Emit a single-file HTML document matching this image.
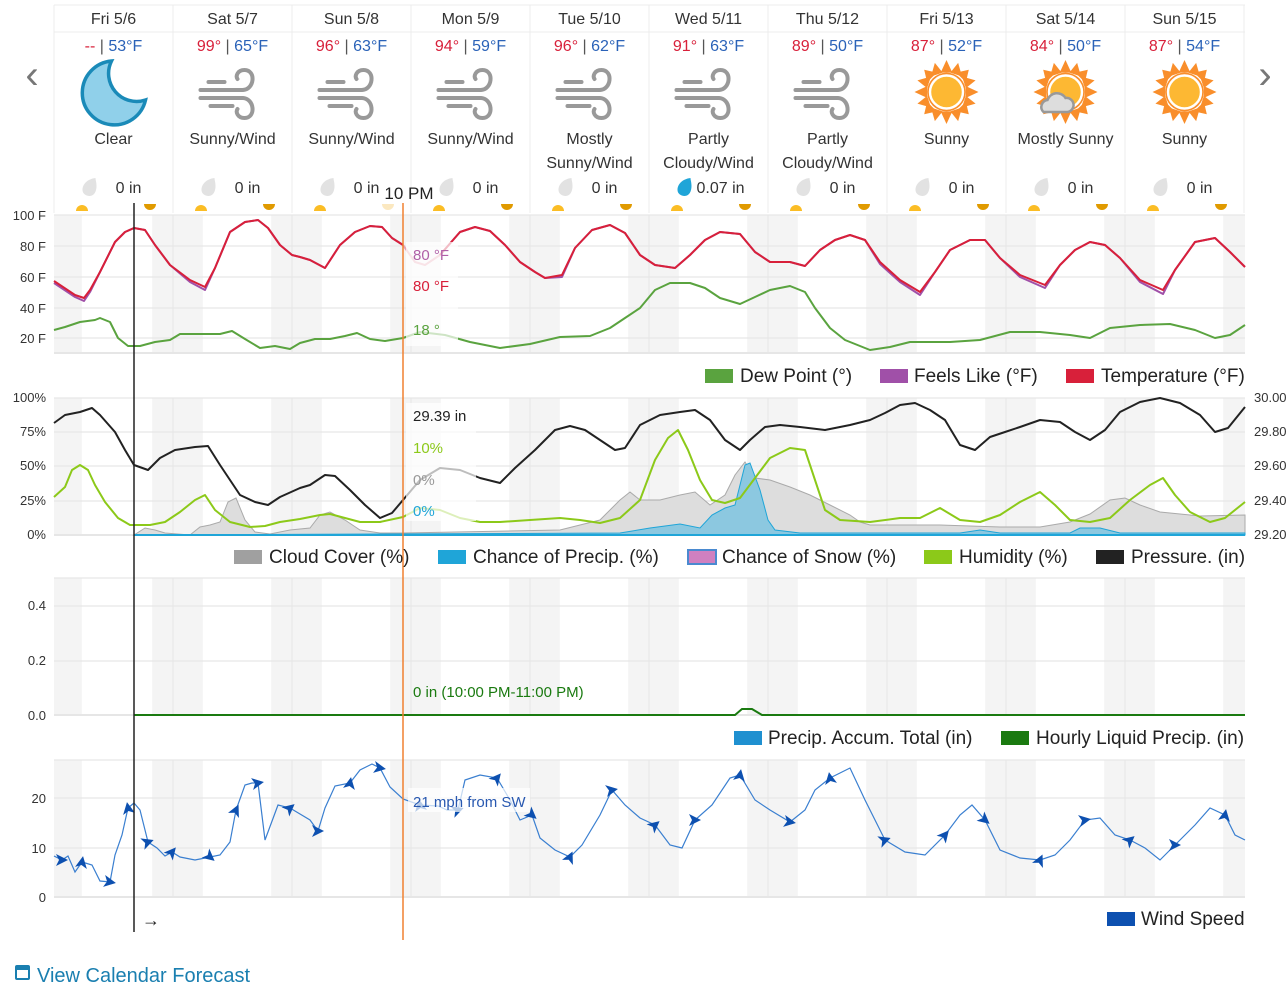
<!DOCTYPE html>
<html><head><meta charset="utf-8"><style>
body{margin:0;background:#fff;font-family:"Liberation Sans",sans-serif;}
svg text{font-family:"Liberation Sans",sans-serif;}
</style></head><body>
<svg id="s" width="1288" height="1000" xmlns="http://www.w3.org/2000/svg">
<defs>
<g id="wind"><g stroke="#999" stroke-width="4" fill="none" stroke-linecap="round"><line x1="-24" y1="-10" x2="-8" y2="-10"/><line x1="-32" y1="-2" x2="10" y2="-2"/><line x1="-32" y1="6" x2="10" y2="6"/><line x1="-22" y1="14" x2="0" y2="14"/><path d="M10,-2 C22,-2 24,-22 12,-22 C5,-22 3,-16 5,-13"/><path d="M10,6 C22,6 24,26 12,26 C5,26 3,20 5,17"/></g></g>
<g id="sun"><g fill="#f98e2b"><polygon points="0,-33 6,-20 -6,-20"/><polygon points="0,33 6,20 -6,20"/><polygon points="-33,0 -20,6 -20,-6"/><polygon points="33,0 20,6 20,-6"/><polygon points="23,-23 20,-10 10,-20"/><polygon points="-23,-23 -20,-10 -10,-20"/><polygon points="23,23 20,10 10,20"/><polygon points="-23,23 -20,10 -10,20"/><polygon points="12,-30 16,-16 4,-20"/><polygon points="-12,-30 -4,-20 -16,-16"/><polygon points="12,30 4,20 16,16"/><polygon points="-12,30 -16,16 -4,20"/><polygon points="30,12 20,4 16,16"/><polygon points="-30,12 -16,16 -20,4"/><polygon points="30,-12 16,-16 20,-4"/><polygon points="-30,-12 -20,-4 -16,-16"/></g><circle r="20" fill="#f98e2b"/><circle r="17" fill="#fdb833" stroke="#fff" stroke-width="2.5"/></g>
<g id="drop"><path d="M6,-9 C-2,-8 -7,-3 -7,3 C-7,7 -3,9 0,9 C5,9 7,4 7,-1 C7,-5 6,-7 6,-9Z"/></g>
</defs>
<g id="bg"></g>
<g id="hdr"></g>
<text x="32" y="88" font-size="40" fill="#777" text-anchor="middle" font-weight="300">‹</text>
<text x="1265" y="88" font-size="40" fill="#777" text-anchor="middle" font-weight="300">›</text>
<text x="409" y="199" font-size="17" fill="#222" text-anchor="middle">10 PM</text>
<g font-size="13" fill="#333" text-anchor="end">
<text x="46" y="220">100 F</text><text x="46" y="251">80 F</text><text x="46" y="282">60 F</text><text x="46" y="313">40 F</text><text x="46" y="343">20 F</text>
<text x="46" y="402">100%</text><text x="46" y="436">75%</text><text x="46" y="470">50%</text><text x="46" y="505">25%</text><text x="46" y="539">0%</text>
<text x="46" y="610">0.4</text><text x="46" y="665">0.2</text><text x="46" y="720">0.0</text>
<text x="46" y="803">20</text><text x="46" y="853">10</text><text x="46" y="902">0</text>
</g>
<g font-size="13" fill="#333"><text x="1254" y="402">30.00</text><text x="1254" y="436">29.80</text><text x="1254" y="470">29.60</text><text x="1254" y="505">29.40</text><text x="1254" y="539">29.20</text></g>
<g fill="none" stroke-width="2" stroke-linejoin="round">
<polyline stroke="#a050a8" points="54,283 75,297 84,301 90,292 100,272 115,242 125,232 134,228 145,230 155,245 170,265 190,282 205,290 215,268 230,232 245,222 258,220 268,228 280,245 292,255 300,257 310,260 325,268 340,245 355,232 370,226 382,227 392,238 403,245"/>
<polyline stroke="#d8203a" points="54,281 75,295 84,298 90,290 100,272 115,242 125,232 134,228 145,230 155,245 170,265 190,280 205,287 215,268 230,232 245,222 258,220 268,228 280,245 292,255 300,257 310,260 325,268 340,245 355,232 370,226 382,227 392,238 403,245"/>
<polyline stroke="#e8a0b0" points="403,245 415,262 425,265 440,255"/>
<polyline stroke="#a050a8" points="440,255 460,232 475,227 490,231 505,245 520,262 535,272 545,278 562,277 575,248 592,230 610,225 625,233 640,255 655,265 675,268 690,255 705,240 720,232 740,234 755,252 770,262 790,262 805,266 820,250 835,240 850,235 865,240 880,264 900,282 920,295 935,272 950,250 970,240 985,240 1000,258 1020,277 1045,288 1060,265 1075,250 1090,242 1105,245 1120,258 1140,282 1163,294 1175,270 1195,242 1215,238 1230,252 1245,267"/>
<polyline stroke="#d8203a" points="440,255 460,232 475,227 490,231 505,245 520,262 535,272 545,278 562,275 575,248 592,230 610,225 625,233 640,255 655,265 675,268 690,255 705,240 720,232 740,234 755,252 770,262 790,262 805,266 820,250 835,240 850,235 865,240 880,262 900,280 920,292 935,272 950,250 970,240 985,240 1000,258 1020,275 1045,285 1060,265 1075,250 1090,242 1105,245 1120,258 1140,280 1163,290 1175,270 1195,242 1215,238 1230,252 1245,267"/>
<polyline stroke="#5aa33f" points="54,330 65,327 80,322 95,320 100,318 110,322 118,338 128,346 140,346 155,342 170,340 180,334 200,334 220,334 232,331 245,339 260,348 275,346 290,349 300,343 315,339 330,339 345,336 357,333 370,339 385,341 403,338 420,332 445,335 470,342 500,348 530,344 560,337 590,336 610,328 625,318 640,308 655,290 670,283 690,283 705,288 720,298 740,304 755,297 770,290 790,286 805,292 815,308 830,328 845,340 870,350 890,347 910,342 950,342 980,340 1010,332 1040,332 1070,335 1090,338 1110,328 1140,325 1170,324 1195,330 1215,338 1230,335 1245,325"/>
</g>
<polygon fill="#ddd" stroke="#aaa" stroke-width="1" points="134,535 145,528 155,530 165,533 190,535 200,527 210,525 220,522 228,502 236,498 245,520 255,532 270,534 290,530 310,528 320,515 330,512 345,520 360,530 380,533 403,533 560,530 600,520 620,500 630,492 640,500 660,500 680,495 695,492 710,505 725,495 735,475 745,462 755,478 770,480 790,487 810,495 830,505 850,515 860,522 870,525 900,525 940,525 1000,527 1040,527 1070,522 1090,514 1110,500 1125,498 1140,505 1160,512 1200,516 1245,515 1245,535"/>
<polygon fill="#8cc8e0" stroke="#1fa5d8" stroke-width="1" points="134,535 620,533 650,528 680,524 700,528 712,515 725,508 735,505 745,465 750,463 760,490 768,520 775,530 800,533 960,533 980,530 1000,533 1070,533 1080,528 1100,528 1120,533 1245,533 1245,535"/>
<line x1="134" y1="535" x2="1245" y2="535" stroke="#1fa5d8" stroke-width="2"/>
<g fill="none" stroke-width="2" stroke-linejoin="round">
<polyline stroke="#8cc919" points="54,497 65,487 72,470 80,465 88,470 95,485 105,502 118,518 130,525 150,525 165,522 180,512 195,500 205,495 215,510 230,522 250,527 265,526 280,522 300,519 320,515 330,514 345,518 360,522 380,522 403,517 420,508 440,510 460,518 480,522 500,522 530,520 560,518 580,520 600,523 620,518 640,500 655,460 668,438 678,430 688,450 700,480 712,500 725,503 740,498 755,478 770,458 790,448 805,450 815,480 825,510 840,520 870,522 900,518 920,518 940,508 960,520 980,522 1000,515 1020,502 1040,492 1055,505 1070,520 1090,522 1110,518 1130,500 1150,485 1163,478 1175,495 1190,512 1210,522 1225,518 1245,502"/>
<polyline stroke="#222" points="54,423 65,415 80,412 92,408 100,415 115,432 125,450 134,465 148,470 160,458 175,450 195,447 208,446 220,465 240,495 255,502 268,505 280,497 300,488 310,485 325,475 335,476 350,490 365,505 380,518 392,513 403,500 420,480 440,468 460,470 480,478 500,483 515,468 535,450 555,430 570,426 585,430 600,440 615,450 625,448 640,425 660,415 680,412 695,410 710,420 725,440 740,450 750,440 765,427 780,425 800,427 825,430 835,428 850,425 870,420 885,413 900,405 915,403 930,410 945,420 960,445 975,450 990,437 1005,432 1020,427 1040,420 1060,422 1075,432 1090,440 1105,430 1120,412 1140,402 1160,398 1180,403 1200,415 1215,432 1228,428 1245,407"/>
</g>
<polyline fill="none" stroke="#1a7a10" stroke-width="2" points="134,715 735,715 742,709 752,709 762,715 1245,715"/>
<polyline id="wl" fill="none" stroke="#3a7fd0" stroke-width="1.2" points="54,856 62,860 68,856 75,872 82,862 92,865 100,881 110,882 115,855 122,835 128,808 134,803 140,810 148,842 157,848 165,856 172,852 180,857 195,860 210,857 220,855 230,842 236,810 245,785 252,783 258,783 265,840 278,805 290,808 300,814 310,820 318,831 325,808 335,786 350,783 360,770 372,764 380,768 390,787 403,799 420,805 438,806 447,810 458,810 465,780 480,775 497,778 510,800 520,820 532,815 540,838 555,850 570,857 582,845 600,815 612,790 625,805 640,818 655,825 670,845 682,848 695,820 712,805 730,778 740,775 755,800 770,810 790,822 805,810 815,790 830,778 850,768 865,800 885,840 905,852 925,855 945,835 960,815 972,805 985,820 1000,850 1020,858 1040,860 1055,855 1070,840 1085,820 1100,818 1115,835 1130,840 1145,848 1160,860 1175,845 1195,825 1210,808 1225,815 1235,835 1245,840"/>
<g id="arrows"></g>
<line x1="134" y1="203" x2="134" y2="932" stroke="#222" stroke-width="1.5"/>
<line x1="403" y1="203" x2="403" y2="940" stroke="#f08030" stroke-width="1.5"/>
<text x="142" y="926" font-size="18" fill="#222">→</text>
<g font-size="15">
<rect x="406" y="242" width="52" height="104" fill="#fff" opacity="0.7"/>
<text x="413" y="260" fill="#b060a8">80 °F</text><text x="413" y="291" fill="#d8203a">80 °F</text><text x="413" y="335" fill="#5aa33f">18 °</text>
<rect x="406" y="403" width="70" height="118" fill="#fff" opacity="0.7"/>
<text x="413" y="421" fill="#222">29.39 in</text><text x="413" y="453" fill="#8cc919">10%</text><text x="413" y="485" fill="#999">0%</text><text x="413" y="516" fill="#1fa5d8">0%</text>
<text x="413" y="697" fill="#1a7a10">0 in (10:00 PM-11:00 PM)</text>
<rect x="408" y="788" width="122" height="24" fill="#fff" opacity="0.7"/>
<text x="413" y="807" fill="#2858b0">21 mph from SW</text>
</g>
<g font-size="19" fill="#222">
<rect x="705" y="369" width="28" height="14" fill="#5aa33f"/><text x="740" y="382">Dew Point (°)</text>
<rect x="880" y="369" width="28" height="14" fill="#a050a8"/><text x="914" y="382">Feels Like (°F)</text>
<rect x="1066" y="369" width="28" height="14" fill="#d8203a"/><text x="1101" y="382">Temperature (°F)</text>
<rect x="234" y="550" width="28" height="14" fill="#a0a0a0"/><text x="269" y="563">Cloud Cover (%)</text>
<rect x="438" y="550" width="28" height="14" fill="#1fa5d8"/><text x="473" y="563">Chance of Precip. (%)</text>
<rect x="688" y="550" width="28" height="14" fill="#d080c0" stroke="#4a8ad0" stroke-width="2"/><text x="722" y="563">Chance of Snow (%)</text>
<rect x="924" y="550" width="28" height="14" fill="#8cc919"/><text x="959" y="563">Humidity (%)</text>
<rect x="1096" y="550" width="28" height="14" fill="#222"/><text x="1131" y="563">Pressure. (in)</text>
<rect x="734" y="731" width="28" height="14" fill="#1f90d0"/><text x="768" y="744">Precip. Accum. Total (in)</text>
<rect x="1001" y="731" width="28" height="14" fill="#1a7a10"/><text x="1036" y="744">Hourly Liquid Precip. (in)</text>
<rect x="1107" y="912" width="28" height="14" fill="#0d50b0"/><text x="1141" y="925">Wind Speed</text>
</g>
<g fill="#1a7fb0"><rect x="16" y="966" width="13" height="13" rx="1" fill="none" stroke="#1a7fb0" stroke-width="2"/><rect x="16" y="966" width="13" height="4"/></g>
<text x="37" y="982" font-size="20" fill="#1a7fb0">View Calendar Forecast</text>
</svg>
<script>
var NS="http://www.w3.org/2000/svg";
function el(p,t,a,txt){var e=document.createElementNS(NS,t);for(var k in a)e.setAttribute(k,a[k]);if(txt!=null)e.textContent=txt;p.appendChild(e);return e;}
var bg=document.getElementById('bg'),hdr=document.getElementById('hdr');
var panels=[[215,353],[398,535],[578,715],[760,897]];
var ph=1190/240;
panels.forEach(function(p){
 el(bg,'rect',{x:54,y:p[0],width:1191,height:p[1]-p[0],fill:'#fff'});
 var bands=[[0,5.6]];for(var d=0;d<10;d++)bands.push([24*d+19.8,24*d+30]);
 bands.forEach(function(b){var x1=54+b[0]*ph,x2=Math.min(1245,54+b[1]*ph);if(x2>x1)el(bg,'rect',{x:x1,y:p[0],width:x2-x1,height:p[1]-p[0],fill:'#f4f4f4'});});
 for(var d=1;d<10;d++){var x=54+119*d;el(bg,'line',{x1:x,y1:p[0],x2:x,y2:p[1],stroke:'#e6e6e6','stroke-width':1});}
});
var grids=[[215,246,277,308,338,353],[398,432,466,501,535],[578,606,661,715],[760,798,848,897]];
grids.forEach(function(g){g.forEach(function(y){el(bg,'line',{x1:54,y1:y,x2:1245,y2:y,stroke:'#e6e6e6','stroke-width':y==535||y==715||y==897||y==353?2:1.2});});});
// wind arrows
var pts=document.getElementById('wl').getAttribute('points').trim().split(/\s+/).map(function(s){return s.split(',').map(Number);});
var ag=document.getElementById('arrows');
var angs=[20,-60,30,-80,0,-30,60,-45,10,-20];
for(var i=1;i<pts.length-1;i+=3){var p=pts[i];var a=angs[(i/3|0)%angs.length]-20;
 el(ag,'path',{d:'M6,0 L-6,-6 L-3,0 L-6,6Z',fill:'#0d50b0',transform:'translate('+p[0]+','+p[1]+') rotate('+a+')'});}
var days=[["Fri 5/6","--","53°F","moon",["Clear"],"0 in"],["Sat 5/7","99°","65°F","wind",["Sunny/Wind"],"0 in"],["Sun 5/8","96°","63°F","wind",["Sunny/Wind"],"0 in"],["Mon 5/9","94°","59°F","wind",["Sunny/Wind"],"0 in"],["Tue 5/10","96°","62°F","wind",["Mostly","Sunny/Wind"],"0 in"],["Wed 5/11","91°","63°F","wind",["Partly","Cloudy/Wind"],"0.07 in"],["Thu 5/12","89°","50°F","wind",["Partly","Cloudy/Wind"],"0 in"],["Fri 5/13","87°","52°F","sun",["Sunny"],"0 in"],["Sat 5/14","84°","50°F","msun",["Mostly Sunny"],"0 in"],["Sun 5/15","87°","54°F","sun",["Sunny"],"0 in"]];
el(hdr,'line',{x1:54,y1:5,x2:1245,y2:5,stroke:'#ececec'});
el(hdr,'line',{x1:54,y1:32,x2:1245,y2:32,stroke:'#ececec'});
days.forEach(function(d,i){
 var x0=54+119*i,cx=x0+59.5;
 el(hdr,'line',{x1:x0,y1:5,x2:x0,y2:213,stroke:'#ececec'});
 if(i==9)el(hdr,'line',{x1:x0+119,y1:5,x2:x0+119,y2:213,stroke:'#ececec'});
 el(hdr,'text',{x:cx,y:24,'font-size':16,fill:'#333','text-anchor':'middle'},d[0]);
 var t=el(hdr,'text',{x:cx,y:51,'font-size':16,'text-anchor':'middle'});
 el(t,'tspan',{fill:'#d8203a'},d[1]);el(t,'tspan',{fill:'#555'},' | ');el(t,'tspan',{fill:'#2a62b8'},d[2]);
 var g=el(hdr,'g',{transform:'translate('+cx+',92)'});
 if(d[3]=='wind')el(g,'use',{href:'#wind'});
 else if(d[3]=='moon')el(g,'path',{d:'M-2,-31 A32,32 0 1 0 32,8 A28,28 0 0 1 -2,-31Z',fill:'#90d0ea',stroke:'#1a8ab8','stroke-width':3.5,transform:'translate(0,0)'});
 else{el(g,'use',{href:'#sun',transform:'scale(0.97)'});if(d[3]=='msun')el(g,'path',{d:'M-18,20 A7,7 0 0 1 -14,8 A10,10 0 0 1 4,6 A7,7 0 0 1 6,20Z',fill:'#ddd',stroke:'#999','stroke-width':2.5,transform:'translate(-4,0)'});}
 d[4].forEach(function(l,j){el(hdr,'text',{x:cx,y:144+24*j,'font-size':16,fill:'#333','text-anchor':'middle'},l);});
 el(hdr,'use',{href:'#drop',x:cx-24,y:187,fill:d[5]=='0 in'?'#e2e2e2':'#1fa5d8'});
 el(hdr,'text',{x:cx+(d[5]=='0 in'?15:-12),y:193,'font-size':16,fill:'#333','text-anchor':d[5]=='0 in'?'middle':'start'},d[5]);
 var sx=x0+28,ex=x0+96;
 el(hdr,'path',{d:'M'+(sx-6)+',211 A6,6 0 0 1 '+(sx+6)+',211Z',fill:'#fbbd25'});
 el(hdr,'path',{d:'M'+(ex-6)+',204 A6,6 0 0 0 '+(ex+6)+',204Z',fill:i==2?'#fbe8c0':'#e09a00'});
});
</script>
</body></html>
